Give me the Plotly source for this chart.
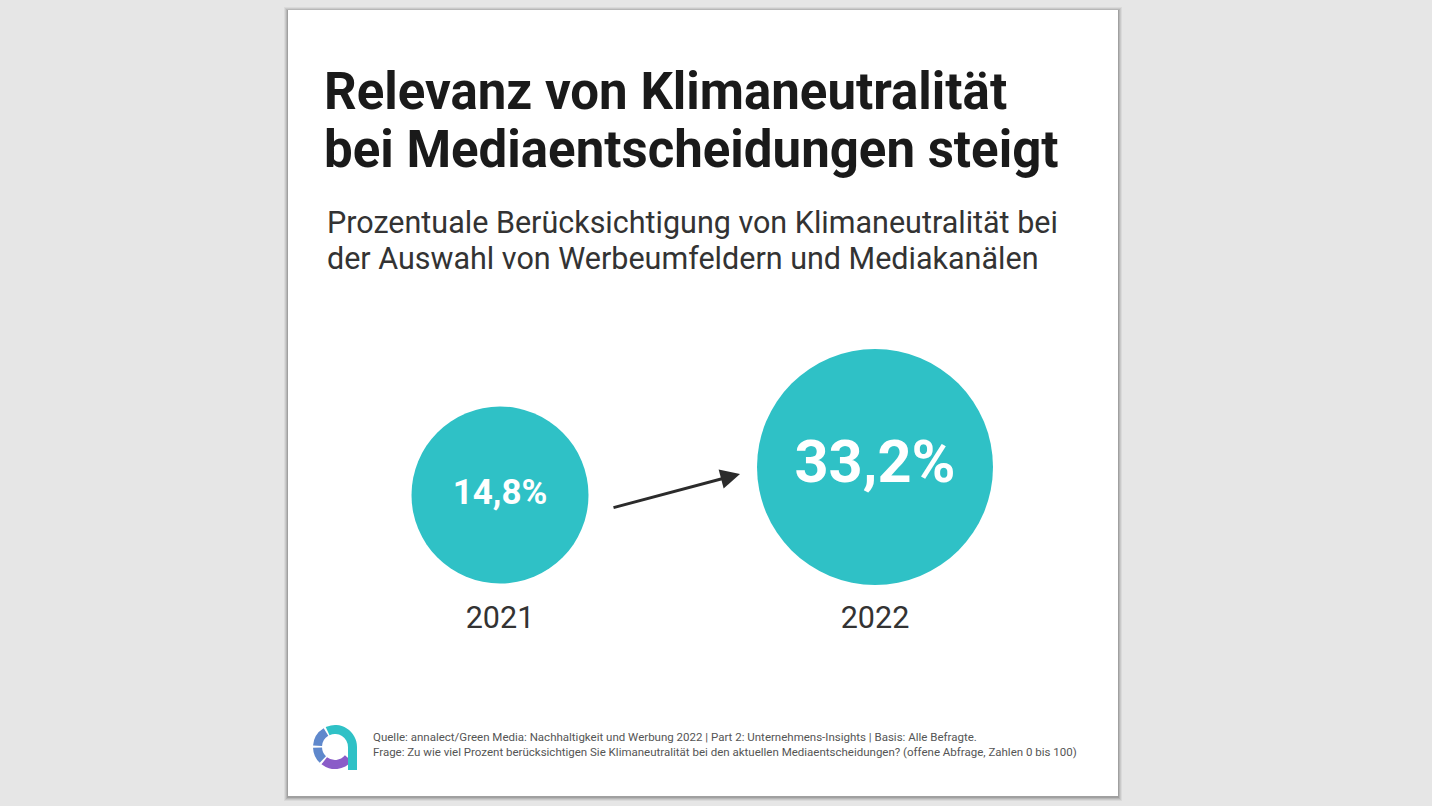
import plotly.graph_objs as go

# daten
jahre = ["2021", "2022"]
werte = [14.8, 33.2]

titel_zeilen = ["Relevanz von Klimaneutralität", "bei Mediaentscheidungen steigt"]
untertitel_zeilen = ["Prozentuale Berücksichtigung von Klimaneutralität bei",
                     "der Auswahl von Werbeumfeldern und Mediakanälen"]
fussnote_zeilen = [
    "Quelle: annalect/Green Media: Nachhaltigkeit und Werbung 2022 | Part 2: Unternehmens-Insights | Basis: Alle Befragte.",
    "Frage: Zu wie viel Prozent berücksichtigen Sie Klimaneutralität bei den aktuellen Mediaentscheidungen? (offene Abfrage, Zahlen 0 bis 100)",
]

W, H = 1432, 806
TEAL = "#2fc1c6"
FONT = "Roboto"

labels = [f"{v:.1f}".replace(".", ",") + "%" for v in werte]

fig = go.Figure()

# kreise mit werten
fig.add_trace(go.Scatter(
    x=[500, 875], y=[495, 467], mode="markers+text",
    marker=dict(size=[177, 236], color=TEAL, opacity=1, line=dict(width=0)),
    text=labels, textposition="middle center",
    textfont=dict(family=FONT, size=[35, 59.5], color="white", weight="bold"),
    hoverinfo="skip", showlegend=False))

# jahreszahlen
fig.add_trace(go.Scatter(
    x=[500, 875], y=[620, 620], mode="text", text=jahre,
    textfont=dict(family=FONT, size=30.5, color="#333333"),
    hoverinfo="skip", showlegend=False))

# logo
fig.add_trace(go.Pie(
    values=[115, 40, 88, 6, 44, 6, 55, 6], sort=False, direction="clockwise",
    rotation=-25, hole=0.59, textinfo="none", hoverinfo="skip", showlegend=False,
    marker=dict(colors=[TEAL, "rgba(0,0,0,0)", "#8a5cc8", "rgba(0,0,0,0)",
                        "#5f88cc", "rgba(0,0,0,0)", "#5f88cc", "rgba(0,0,0,0)"],
                line=dict(width=0)),
    domain=dict(x=[313 / W, 357 / W], y=[1 - 769 / H, 1 - 725 / H])))

shapes = []
# schatten der karte
for i, op in enumerate([0.05, 0.07, 0.09, 0.12]):
    d = 4 - i
    shapes.append(dict(type="rect", xref="x", yref="y", x0=288 - d, x1=1118 + d,
                       y0=10 - d + 1, y1=796 + d + 1, line=dict(width=0),
                       fillcolor=f"rgba(0,0,0,{op})", layer="below"))
shapes.append(dict(type="rect", xref="x", yref="y", x0=288, x1=1118, y0=10, y1=796,
                   line=dict(width=0), fillcolor="white", layer="below"))
# logo-schwanz
shapes.append(dict(type="rect", xref="x", yref="y", x0=348, x1=357, y0=747, y1=770,
                   line=dict(width=0), fillcolor=TEAL))

annotations = []
for i, t in enumerate(titel_zeilen):
    annotations.append(dict(x=322, y=91 + i * 58, xref="x", yref="y", text=t,
                            showarrow=False, xanchor="left", yanchor="middle",
                            font=dict(family=FONT, size=51, color="#1a1a1a", weight="bold")))
for i, t in enumerate(untertitel_zeilen):
    annotations.append(dict(x=325, y=222 + i * 36, xref="x", yref="y", text=t,
                            showarrow=False, xanchor="left", yanchor="middle",
                            font=dict(family=FONT, size=30.5, color="#333333")))
for i, t in enumerate(fussnote_zeilen):
    annotations.append(dict(x=371, y=737 + i * 15, xref="x", yref="y", text=t,
                            showarrow=False, xanchor="left", yanchor="middle",
                            font=dict(family=FONT, size=11.5, color="#555555")))
# pfeil
annotations.append(dict(x=740, y=474, ax=612, ay=508, xref="x", yref="y",
                        axref="x", ayref="y", text="", showarrow=True,
                        arrowhead=2, arrowsize=1.3, arrowwidth=3, arrowcolor="#2b2b2b"))

fig.update_layout(
    width=W, height=H, margin=dict(l=0, r=0, t=0, b=0),
    paper_bgcolor="#e6e6e6", plot_bgcolor="rgba(0,0,0,0)",
    xaxis=dict(range=[0, W], visible=False, fixedrange=True),
    yaxis=dict(range=[H, 0], visible=False, fixedrange=True),
    shapes=shapes, annotations=annotations)

fig.write_html("out.html", config={"displayModeBar": False},
               post_script="document.body.style.margin='0';document.body.style.overflow='hidden';")
